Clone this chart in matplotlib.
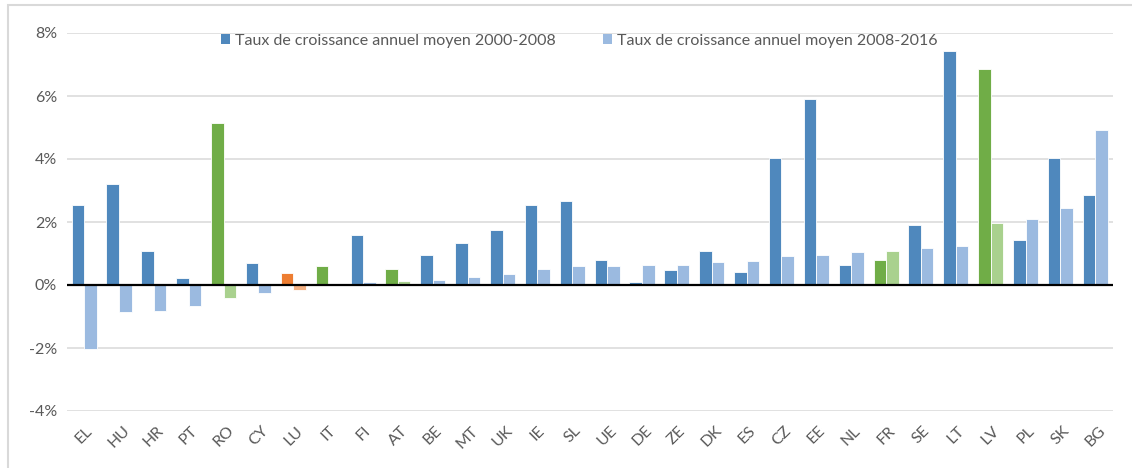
import numpy as np
import matplotlib.pyplot as plt
from matplotlib.patches import Rectangle

plt.rcParams['font.family'] = ['Lato', 'DejaVu Sans']

# Pays et taux de croissance annuels moyens (%)
pays = ['EL', 'HU', 'HR', 'PT', 'RO', 'CY', 'LU', 'IT', 'FI', 'AT', 'BE',
        'MT', 'UK', 'IE', 'SL', 'UE', 'DE', 'ZE', 'DK', 'ES', 'CZ', 'EE',
        'NL', 'FR', 'SE', 'LT', 'LV', 'PL', 'SK', 'BG']
taux_2000_2008 = [2.53, 3.22, 1.08, 0.22, 5.15, 0.71, 0.37, 0.60, 1.58, 0.52,
                  0.94, 1.32, 1.74, 2.53, 2.68, 0.79, 0.11, 0.49, 1.08, 0.42,
                  4.03, 5.90, 0.63, 0.78, 1.89, 7.43, 6.85, 1.43, 4.03, 2.85]
taux_2008_2016 = [-2.02, -0.85, -0.82, -0.66, -0.40, -0.24, -0.17, 0.0, 0.08, 0.13,
                  0.15, 0.26, 0.34, 0.52, 0.60, 0.60, 0.65, 0.65, 0.72, 0.75,
                  0.93, 0.96, 1.05, 1.09, 1.16, 1.24, 1.97, 2.08, 2.46, 4.92]
pays_verts = ['RO', 'IT', 'AT', 'FR', 'LV']
pays_orange = ['LU']

legende = ['Taux de croissance annuel moyen 2000-2008',
           'Taux de croissance annuel moyen 2008-2016']

# Couleurs (foncé pour 2000-2008, clair pour 2008-2016)
bleu = ('#4F88BD', '#9BBAE0')
vert = ('#70AD47', '#A9D18E')
orange = ('#ED7D31', '#F4B183')
gris = '#595959'

couleurs = []
for p in pays:
    if p in pays_verts:
        couleurs.append(vert)
    elif p in pays_orange:
        couleurs.append(orange)
    else:
        couleurs.append(bleu)

fig = plt.figure(figsize=(11.32, 4.68), dpi=100)
ax = fig.add_axes([66.7 / 1132, 1 - 411 / 468, 1046 / 1132, 378 / 468])

# Cadre du graphique
fig.patches.append(Rectangle((8 / 1132, -0.1), 1.2, 1 - 5 / 468 + 0.1,
                             transform=fig.transFigure, fill=False,
                             edgecolor='#D9D9D9', linewidth=1.5))

x = np.arange(len(pays))
w = 0.36
ax.bar(x - w / 2, taux_2000_2008, w, color=[c[0] for c in couleurs],
       edgecolor='white', linewidth=0.6, zorder=3, label=legende[0])
ax.bar(x + w / 2, taux_2008_2016, w, color=[c[1] for c in couleurs],
       edgecolor='white', linewidth=0.6, zorder=3, label=legende[1])

ax.set_xlim(-0.5, len(pays) - 0.5)
ax.set_ylim(-4, 8)
ax.set_yticks(np.arange(-4, 9, 2))
ax.set_yticklabels(['%d%%' % v for v in np.arange(-4, 9, 2)])
ax.set_xticks(x)
ax.set_xticklabels(pays, rotation=45)

ax.grid(axis='y', color='#D9D9D9', linewidth=1.1, zorder=0)
ax.axhline(0, color='black', linewidth=1.6, zorder=4)
for s in ax.spines.values():
    s.set_visible(False)
ax.tick_params(axis='both', length=0, colors=gris, labelsize=11.5)
ax.tick_params(axis='y', pad=7)
ax.tick_params(axis='x', pad=9)

leg = ax.legend(loc='upper center', bbox_to_anchor=(0.49, 1.015), ncol=2,
                frameon=False, fontsize=11.5, handlelength=0.55,
                handleheight=0.55, handletextpad=0.3, columnspacing=3.0,
                borderaxespad=0.0)
for t in leg.get_texts():
    t.set_color(gris)
for h in leg.legend_handles:
    h.set_edgecolor('none')
leg.legend_handles[0].set_facecolor(bleu[0])
leg.legend_handles[1].set_facecolor(bleu[1])

fig.savefig('out.png', dpi=100)
